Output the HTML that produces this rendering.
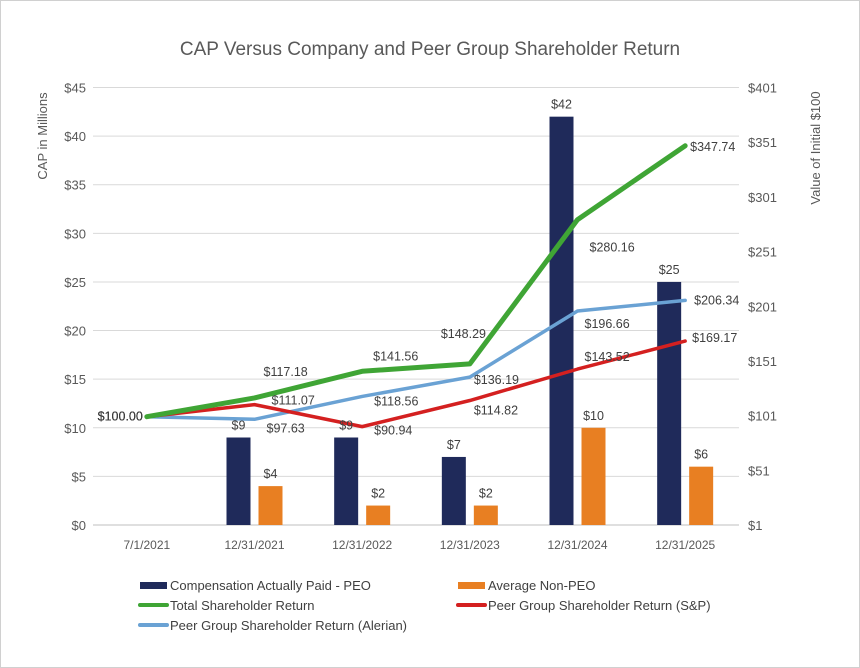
<!DOCTYPE html>
<html><head><meta charset="utf-8"><style>
body{margin:0;background:#fff;}
svg{display:block;font-family:"Liberation Sans",Arial,sans-serif;}
</style></head><body>
<svg id="chart" width="860" height="668" viewBox="0 0 860 668">
<rect x="0.5" y="0.5" width="859" height="667" fill="#fff" stroke="#d0d0d0"/>
<text x="430" y="55" text-anchor="middle" font-size="19" fill="#595959">CAP Versus Company and Peer Group Shareholder Return</text>
<text transform="translate(47,136) rotate(-90)" text-anchor="middle" font-size="13" fill="#595959">CAP in Millions</text>
<text transform="translate(820,148) rotate(-90)" text-anchor="middle" font-size="13" fill="#595959">Value of Initial $100</text>
<g id="grid"></g><g id="bars"></g><g id="lines"></g><g id="labels"></g><g id="axes"></g>
<g font-size="13" fill="#404040">
<rect x="140" y="582" width="27" height="7" fill="#1f2a5a"/>
<text x="170" y="590">Compensation Actually Paid - PEO</text>
<rect x="458" y="582" width="27" height="7" fill="#e87f22"/>
<text x="488" y="590">Average Non-PEO</text>
<line x1="140" y1="605" x2="167" y2="605" stroke="#3fa535" stroke-width="4" stroke-linecap="round"/>
<text x="170" y="610">Total Shareholder Return</text>
<line x1="458" y1="605" x2="485" y2="605" stroke="#d42020" stroke-width="4" stroke-linecap="round"/>
<text x="488" y="610">Peer Group Shareholder Return (S&amp;P)</text>
<line x1="140" y1="625" x2="167" y2="625" stroke="#6aa2d4" stroke-width="4" stroke-linecap="round"/>
<text x="170" y="630">Peer Group Shareholder Return (Alerian)</text>
</g>
</svg>
<script>
const categories=["7/1/2021","12/31/2021","12/31/2022","12/31/2023","12/31/2024","12/31/2025"];
const capPEO=[null,9,9,7,42,25];
const nonPEO=[null,4,2,2,10,6];
const tsr=[100.00,117.18,141.56,148.29,280.16,347.74];
const alerian=[100.00,97.63,118.56,136.19,196.66,206.34];
const sp=[100.00,111.07,90.94,114.82,143.52,169.17];
const leftTicks=[0,5,10,15,20,25,30,35,40,45];
const rightTicks=[1,51,101,151,201,251,301,351,401];
const NS="http://www.w3.org/2000/svg";
const X0=93,X1=739,YB=525,YT=87.5;
const xc=i=>X0+(X1-X0)/categories.length*(i+0.5);
const yL=v=>YB-(v/45)*(YB-YT);
const yR=v=>YB-((v-1)/400)*(YB-YT);
function mk(tag,attrs,parent,txt){const e=document.createElementNS(NS,tag);for(const k in attrs)e.setAttribute(k,attrs[k]);if(txt!==undefined)e.textContent=txt;document.getElementById(parent).appendChild(e);return e;}
leftTicks.forEach(t=>{
 const g=mk('line',{x1:X0,x2:X1,y1:yL(t),y2:yL(t),stroke:t===0?'#bfbfbf':'#d9d9d9','stroke-width':1},'grid');
 
 
 const l=mk('text',{x:86,y:yL(t)+5,'text-anchor':'end','font-size':13,fill:'#595959'},'axes','$'+t);
 
 
});
rightTicks.forEach(t=>{
 const l=mk('text',{x:748,y:yR(t)+5,'font-size':13,fill:'#595959'},'axes','$'+t);
 
 
});
categories.forEach((c,i)=>{
 const l=mk('text',{x:xc(i),y:549,'text-anchor':'middle','font-size':12,fill:'#595959'},'axes',c);
 
 
});
const BW=24;
capPEO.forEach((v,i)=>{if(v===null)return;
 const r=mk('rect',{x:xc(i)-BW-4,y:yL(v),width:BW,height:YB-yL(v),fill:'#1f2a5a'},'bars');
 
 
 const t=mk('text',{x:xc(i)-16,y:yL(v)-8,'text-anchor':'middle','font-size':12.5,fill:'#404040'},'labels','$'+v);
 
 
});
nonPEO.forEach((v,i)=>{if(v===null)return;
 const r=mk('rect',{x:xc(i)+4,y:yL(v),width:BW,height:YB-yL(v),fill:'#e87f22'},'bars');
 
 
 const t=mk('text',{x:xc(i)+16,y:yL(v)-8,'text-anchor':'middle','font-size':12.5,fill:'#404040'},'labels','$'+v);
 
 
});
const series=[
 {d:alerian,c:'#6aa2d4',n:'alerian',off:[[-4,4,'end'],[12,13,'start'],[12,9,'start'],[4,7,'start'],[7,17,'start'],[9,4,'start']]},
 {d:sp,c:'#d42020',n:'sp',off:[[-4,4,'end'],[17,0,'start'],[12,8,'start'],[4,14,'start'],[7,-8,'start'],[7,1,'start']]},
 {d:tsr,c:'#3fa535',n:'tsr',off:[[-4,4,'end'],[9,-22,'start'],[11,-11,'start'],[-29,-26,'start'],[12,32,'start'],[5,5,'start']]}
];
series.forEach(s=>{
 const pts=s.d.map((v,i)=>xc(i)+','+yR(v)).join(' ');
 const p=mk('polyline',{points:pts,fill:'none',stroke:s.c,'stroke-width':s.n==='tsr'?5:3.5,'stroke-linejoin':'round','stroke-linecap':'round'},'lines');
 
 
 s.d.forEach((v,i)=>{
  const o=s.off[i];
  const t=mk('text',{x:xc(i)+o[0],y:yR(v)+o[1],'text-anchor':o[2],'font-size':12.5,fill:'#404040'},'labels','$'+v.toFixed(2));
  
  
 });
});
</script>
</body></html>
